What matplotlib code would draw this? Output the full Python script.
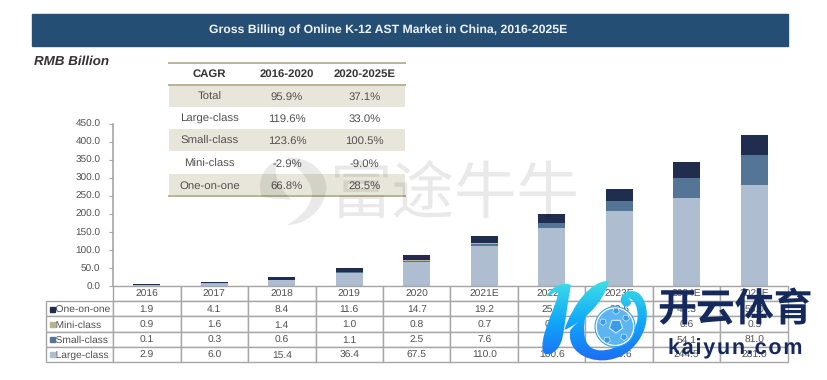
import numpy as np
import matplotlib
matplotlib.use('Agg')
import matplotlib.pyplot as plt
from matplotlib.colors import LinearSegmentedColormap
from matplotlib.patches import Rectangle, Circle, PathPatch, RegularPolygon
from matplotlib.path import Path
from matplotlib.transforms import Affine2D

plt.rcParams['font.family'] = ['Liberation Sans', 'DejaVu Sans']
plt.rcParams['text.hinting'] = 'none'

# Data
years = ['2016', '2017', '2018', '2019', '2020', '2021E', '2022E', '2023E', '2024E', '2025E']
large_class = [2.9, 6.0, 15.4, 36.4, 67.5, 110.0, 160.6, 206.6, 244.5, 281.0]
small_class = [0.1, 0.3, 0.6, 1.1, 2.5, 7.6, 13.0, 29.1, 54.1, 81.0]
mini_class = [0.9, 1.6, 1.4, 1.0, 0.8, 0.7, 0.6, 0.6, 0.6, 0.5]
one_on_one = [1.9, 4.1, 8.4, 11.6, 14.7, 19.2, 25.1, 32.6, 43.3, 55.0]

y_ticks = [0, 50, 100, 150, 200, 250, 300, 350, 400, 450]

cagr_header = ['CAGR', '2016-2020', '2020-2025E']
cagr_names = ['Total', 'Large-class', 'Small-class', 'Mini-class', 'One-on-one']
cagr_first = ['95.9%', '119.6%', '123.6%', '-2.9%', '66.8%']
cagr_second = ['37.1%', '33.0%', '100.5%', '-9.0%', '28.5%']

title = 'Gross Billing of Online K-12 AST Market in China, 2016-2025E'

COL_LARGE = '#aebdcf'
COL_SMALL = '#557596'
COL_MINI = '#b3b38c'
COL_ONE = '#202d4f'
GREY = '#a6a6a6'
TXT = '#505050'
W, H = 828, 380


def px_axes(left, top, right, bottom):
    # axes placed by pixel box of the 828x380 picture
    return fig.add_axes([left / W, 1 - bottom / H, (right - left) / W, (bottom - top) / H])


def curve(points, ox, oy):
    pts = [(ox + a / 3, oy + b / 3) for a, b in points]
    codes = [Path.MOVETO] + [Path.CURVE4] * (len(pts) - 1)
    return Path(pts, codes)


fig = plt.figure(figsize=(W / 100, H / 100), dpi=100)

# full figure layer for the banner
bg = fig.add_axes([0, 0, 1, 1], zorder=0)
bg.set_xlim(0, W)
bg.set_ylim(H, 0)
bg.axis('off')
bg.add_patch(Rectangle((32, 14), 756, 32, color='#254e74'))
bg.text(388.5, 30.5, title, color='#eef2f5', fontsize=8.8, fontweight='bold', ha='center', va='center')
bg.text(34, 62, 'RMB Billion', color='#333333', fontsize=9.6, fontweight='bold', style='italic', va='center')

# stacked bars
ax = px_axes(113, 123.5, 788, 286)
ax.patch.set_alpha(0)
x = np.arange(len(years))
bottom = np.zeros(len(years))
for values, color in [(large_class, COL_LARGE), (small_class, COL_SMALL),
                      (mini_class, COL_MINI), (one_on_one, COL_ONE)]:
    ax.bar(x, values, 0.4, bottom=bottom, color=color)
    bottom += np.array(values)
ax.set_xlim(-0.5, 9.5)
ax.set_ylim(0, 450)
ax.set_yticks(y_ticks)
ax.set_yticklabels([f'{v:.1f}' for v in y_ticks], fontsize=7.2, color=TXT)
ax.set_xticks([])
ax.tick_params(axis='y', length=3, width=0.8, color=GREY, pad=6)
for side in ['top', 'right']:
    ax.spines[side].set_visible(False)
ax.spines['left'].set_color(GREY)
ax.spines['left'].set_linewidth(1.2)
ax.spines['bottom'].set_color(GREY)

# data table under the bars
tab_ax = px_axes(46, 286, 788, 362)
tab_ax.axis('off')
rows = [one_on_one, mini_class, small_class, large_class]
names = ['One-on-one', 'Mini-class', 'Small-class', 'Large-class']
swatches = [COL_ONE, COL_MINI, COL_SMALL, COL_LARGE]
cells = [[''] + years] + [['   ' + n] + [f'{v:.1f}' for v in r] for n, r in zip(names, rows)]
col_w = [67 / 742] + [67.5 / 742] * 10
tb = tab_ax.table(cellText=cells, colWidths=col_w, bbox=[0, 0, 1, 1], cellLoc='center')
tb.auto_set_font_size(False)
tb.set_fontsize(7.4)
for (r, c), cell in tb.get_celld().items():
    cell.set_edgecolor(GREY)
    cell.set_linewidth(1.0)
    cell.get_text().set_color(TXT)
    cell.get_text().set_verticalalignment('center_baseline')
    if c == 0:
        cell.get_text().set_ha('left')
        cell.PAD = 0.02
        if r == 0:
            cell.set_visible(False)
swatch_tf = Affine2D().scale(1 / 742, 1 / 76) + tab_ax.transAxes
for i, color in enumerate(swatches):
    bg_y = 309 + i * 15.2
    tab_ax.add_patch(Rectangle((4, 362 - bg_y - 2.5), 5, 5, color=color, zorder=5, transform=swatch_tf))

# CAGR table
cg = px_axes(169, 62, 405, 196)
cg.set_xlim(169, 405)
cg.set_ylim(196, 62)
cg.axis('off')
cg_cells = [cagr_header] + [list(r) for r in zip(cagr_names, cagr_first, cagr_second)]
cg_tb = cg.table(cellText=cg_cells, colWidths=[0.343, 0.314, 0.343], bbox=[0, 0, 1, 1], cellLoc='center')
cg_tb.auto_set_font_size(False)
cg_tb.set_fontsize(8.2)
for (r, c), cell in cg_tb.get_celld().items():
    cell.set_linewidth(0)
    cell.get_text().set_color('#333333' if r == 0 else TXT)
    cell.get_text().set_verticalalignment('center_baseline')
    cell.set_facecolor('#e8e6da' if r in (1, 3, 5) else 'none')
    if r == 0:
        cell.get_text().set_fontweight('bold')
for y_line in (62.5, 85, 195.5):
    cg.plot([169, 405], [y_line, y_line], color='#b8b594', lw=1.4, clip_on=False, zorder=5)

# watermarks on top of everything
top = fig.add_axes([0, 0, 1, 1], zorder=10)
top.patch.set_alpha(0)
top.axis('off')

# faint grey mark
mark = dict(fc='black', ec='none', alpha=0.085)
top.add_patch(PathPatch(curve([(95, 22), (185, 20), (225, 90), (212, 130),
                               (200, 185), (150, 225), (95, 225),
                               (150, 195), (185, 150), (165, 105),
                               (150, 70), (120, 50), (95, 22)], 255, 150), **mark))
top.add_patch(PathPatch(curve([(70, 28), (25, 50), (5, 90), (20, 140),
                               (60, 150), (85, 145), (110, 150),
                               (70, 110), (50, 70), (70, 28)], 255, 150), **mark))
top.text(455, 195, '富途牛牛', family=['Noto Sans CJK SC', 'DejaVu Sans'], color='black', alpha=0.085,
         fontsize=45, ha='center', va='center')

# K logo, blue gradient clipped to the shapes
stem = curve([(35, 62), (50, 35), (85, 18), (108, 30),
              (98, 80), (90, 150), (82, 190),
              (72, 228), (45, 245), (28, 235),
              (15, 220), (25, 180), (40, 140),
              (55, 100), (72, 62), (68, 52),
              (58, 45), (45, 68), (35, 62)], 535, 275)
arm = curve([(222, 18), (170, 15), (115, 85), (88, 165),
             (135, 145), (205, 90), (222, 18)], 535, 275)
leg = curve([(106, 165), (95, 225), (150, 258), (205, 256),
             (285, 254), (340, 180), (335, 110),
             (332, 70), (312, 45), (285, 48),
             (262, 50), (245, 78), (268, 94),
             (287, 98), (295, 80), (280, 70),
             (298, 72), (308, 95), (308, 125),
             (304, 185), (250, 228), (195, 226),
             (155, 224), (138, 190), (152, 120),
             (135, 135), (118, 150), (106, 165)], 535, 275)
grad = np.linspace(0, 1, 80).reshape(-1, 1)
k_cmap = LinearSegmentedColormap.from_list('k_logo', ['#3fe0e6', '#10a8f8', '#1e6cf5'])
for shape in (stem, arm, leg):
    patch = PathPatch(shape, fc='none', ec='none', transform=top.transData)
    top.add_patch(patch)
    im = top.imshow(grad, extent=(540, 650, 362, 280), aspect='auto', cmap=k_cmap, zorder=3)
    im.set_clip_path(patch)
top.set_xlim(0, W)
top.set_ylim(H, 0)

# football
top.add_patch(Circle((615, 326.7), 19, fc='#5cb4f0', ec='white', lw=1.2, zorder=4))
top.add_patch(Circle((615, 326.7), 20, fc='none', ec='#35a2ee', lw=0.8, zorder=4))
top.add_patch(RegularPolygon((616, 326), 5, radius=7, fc='#3a9be8', ec='#d5ecfb', lw=0.8, zorder=5))
for px, py in [(603, 322), (626, 318), (624, 337), (607, 340), (616, 311)]:
    top.add_patch(RegularPolygon((px, py), 5, radius=3.5, fc='#3a9be8', ec='#d5ecfb', lw=0.5, zorder=5))

top.text(735, 310, '开云体育', family=['Noto Sans CJK SC', 'DejaVu Sans'], color='#16295c',
         fontsize=28, fontweight='bold', ha='center', va='center', zorder=6)
top.text(735, 349, 'k\u200aa\u200ai\u200ay\u200au\u200an\u200a.\u200ac\u200ao\u200am', color='#16295c',
         fontsize=15.5, fontweight='bold', ha='center', va='center', zorder=6)

fig.savefig('out.png', dpi=100)
